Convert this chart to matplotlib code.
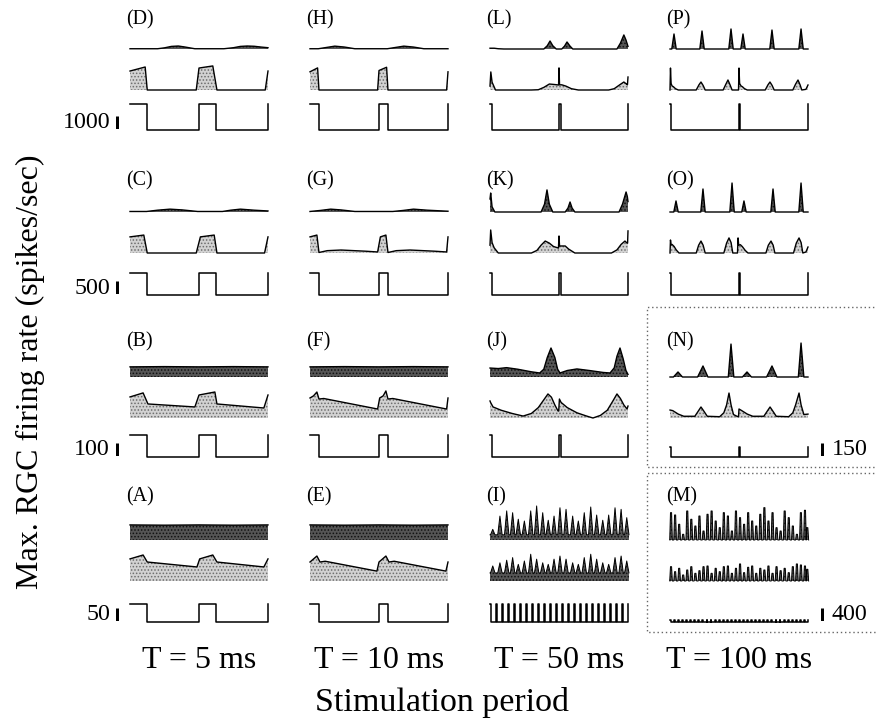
import matplotlib.pyplot as plt
from matplotlib.lines import Line2D

plt.rcParams['font.family'] = ['Liberation Serif', 'DejaVu Serif']
plt.rcParams['hatch.linewidth'] = 0.7

# ---------------- data (times in ms, rates in spikes/s) ----------------
periods = [5, 10, 50, 100]
pulse_width = 1.25
train_pulse_width = 0.5
col_titles = ['T = 5 ms', 'T = 10 ms', 'T = 50 ms', 'T = 100 ms']
row_scales = [1000, 500, 100, 50]          # rows D, C, B, A (left scale bars)
col4_scales = [1000, 500, 150, 400]        # rows P, O, N, M
panel_names = [['(D)', '(H)', '(L)', '(P)'],
               ['(C)', '(G)', '(K)', '(O)'],
               ['(B)', '(F)', '(J)', '(N)'],
               ['(A)', '(E)', '(I)', '(M)']]

# column 1, T = 5 ms
D_top_t = [0, 2.0, 2.5, 3.0, 3.5, 4.0, 4.7, 6.8, 7.5, 8.0, 8.5, 9.0, 9.5, 10]
D_top_r = [20, 20, 90, 200, 230, 150, 20, 20, 100, 200, 230, 210, 150, 100]
D_mid_t = [0, 1.1, 1.25, 4.8, 5.0, 6.0, 6.3, 9.8, 10]
D_mid_r = [1460, 1770, 0, 0, 1690, 1850, 0, 0, 1460]
C_top_t = [0, 1.2, 2.0, 2.9, 3.8, 4.9, 6.7, 7.3, 8.0, 9.0, 10]
C_top_r = [20, 20, 70, 110, 80, 20, 20, 70, 110, 70, 40]
C_mid_t = [0, 1.0, 1.25, 4.8, 5.1, 6.1, 6.3, 9.75, 10]
C_mid_r = [620, 690, 0, 0, 620, 690, 0, 0, 620]
B_top_t = [0, 2.5, 5, 7.5, 10]
B_top_r = [78, 80, 78, 80, 78]
B_mid_t = [0, 0.95, 1.3, 4.7, 5.0, 6.15, 6.3, 9.7, 10]
B_mid_r = [162, 193, 108, 85, 177, 200, 108, 77, 177]
A_top_t = [0, 2.5, 5, 7.5, 10]
A_top_r = [58, 57, 58, 57, 58]
A_mid_t = [0, 0.95, 1.25, 4.85, 5.05, 6.0, 6.3, 9.7, 10]
A_mid_r = [85, 100, 73, 54, 85, 100, 73, 54, 85]

# column 2, T = 10 ms
H_top_t = [0, 1.2, 2.4, 3.6, 5.0, 6.5, 11.2, 12.4, 13.6, 15.0, 16.5, 20]
H_top_r = [20, 20, 120, 220, 150, 20, 20, 120, 220, 150, 20, 20]
H_mid_t = [0, 1.1, 1.3, 9.8, 10.0, 11.1, 11.3, 19.8, 20]
H_mid_r = [1400, 1700, 0, 0, 1500, 1750, 0, 0, 1400]
G_top_t = [0, 1.5, 3.0, 4.5, 6.5, 12.0, 13.5, 15.0, 17.0, 20]
G_top_r = [20, 60, 110, 80, 20, 20, 60, 110, 70, 30]
G_mid_t = [0, 1.0, 1.3, 2.5, 4.5, 8.0, 9.8, 10.2, 11.0, 11.3, 12.5, 14.5, 18.0, 19.8, 20]
G_mid_r = [620, 690, 20, 90, 115, 70, 40, 620, 690, 20, 90, 115, 70, 40, 620]
F_top_t = [0, 5, 10, 15, 20]
F_top_r = [78, 80, 78, 80, 78]
F_mid_t = [0, 0.5, 1.0, 1.3, 2.0, 9.8, 10.1, 10.6, 11.0, 11.3, 12.0, 19.8, 20]
F_mid_r = [154, 170, 200, 146, 150, 69, 154, 170, 208, 146, 150, 69, 154]
E_top_t = [0, 5, 10, 15, 20]
E_top_r = [58, 57, 58, 57, 58]
E_mid_t = [0, 1.0, 1.45, 2.2, 9.7, 10.0, 11.0, 11.45, 12.2, 19.7, 20]
E_mid_r = [73, 96, 73, 76, 38, 73, 96, 73, 76, 38, 73]

# column 3, T = 50 ms
L_top_t = [0, 3, 6, 10, 39, 41.5, 43.5, 45.5, 48, 52, 54, 55.8, 58, 60, 92, 94.5, 97, 98.5, 100]
L_top_r = [60, 60, 20, 0, 0, 250, 615, 250, 0, 0, 220, 540, 220, 0, 0, 450, 1080, 700, 200]
L_mid_t = [0, 0.6, 1.5, 4, 30, 35, 39, 43, 47, 49.7, 50, 50.4, 52, 55, 59, 64,
           86, 90, 94, 97, 99, 99.6, 100]
L_mid_r = [300, 1390, 600, 0, 0, 20, 200, 460, 420, 385, 1700, 400, 400, 300, 100, 0,
           0, 100, 400, 615, 450, 400, 1000]
K_top_t = [0, 0.5, 1.5, 3.5, 37, 39.5, 41.3, 43, 45.5, 54.5, 56.5, 58, 59.5, 61.5, 93.5, 96, 98.6, 99.5, 100]
K_top_r = [500, 730, 200, 0, 0, 300, 850, 300, 0, 0, 150, 385, 150, 0, 0, 300, 770, 600, 400]
K_mid_t = [0, 0.5, 1.5, 3, 6, 30, 34, 37, 40, 43, 46, 49.6, 50, 50.4, 52, 54.5, 57, 61.5,
           88, 92, 95, 97.8, 99.3, 99.7, 100]
K_mid_r = [300, 885, 400, 200, 0, 0, 100, 300, 460, 380, 250, 190, 655, 270, 270, 270, 150, 0,
           0, 120, 330, 460, 380, 380, 850]
J_top_t = [0, 6, 12, 20, 30, 36, 39, 41.5, 44.2, 47, 49, 50.7, 56, 63, 72, 82, 87, 90, 92, 94.2,
           96.5, 98.5, 100]
J_top_r = [69, 65, 72, 60, 40, 31, 60, 150, 223, 150, 60, 31, 50, 62, 50, 35, 31, 70, 160, 223,
           140, 50, 20]
J_mid_t = [0, 0.4, 2.2, 8, 16, 24, 30, 35, 39, 42, 44.5, 47, 49.3, 49.8, 50.3, 51.5, 56, 63, 70,
           74.6, 80, 85, 89, 92, 94.5, 97, 99.3, 100]
J_mid_r = [131, 120, 85, 60, 35, 15, 35, 80, 140, 185, 160, 100, 54, 54, 146, 120, 80, 40, 15,
           0, 20, 60, 130, 185, 150, 100, 69, 92]
I_ticks = [0, 4.3, 8.7, 13.0, 17.4, 21.7, 26.1, 30.4, 34.8, 39.1, 43.5, 47.8, 52.2, 56.5,
           60.9, 65.2, 69.6, 73.9, 78.3, 82.6, 87.0, 91.3, 95.7, 100]
I_peak_t = [2.0, 7.2, 12.1, 16.4, 20.5, 24.9, 29.5, 33.8, 38.2, 42.2, 46.4, 50.7, 55.1, 59.9,
            64.0, 68.3, 73.0, 77.3, 81.7, 86.0, 90.6, 95.0, 99.1]
I_top_peak = [41, 92, 112, 105, 80, 73, 112, 131, 105, 76, 92, 124, 118, 92, 73, 105, 127, 96,
              76, 96, 124, 118, 86]
I_mid_peak = [58, 70, 80, 90, 64, 77, 103, 84, 70, 64, 84, 96, 84, 70, 64, 90, 103, 84, 70, 64,
              90, 96, 77]

# column 4, T = 100 ms
P_peak_t = [5.8, 46.4, 88.4, 105.8, 147.8, 189.9]
P_top_peak = [1155, 1385, 1540, 1155, 1460, 1540]
P_mid_t = [0, 0.7, 1.6, 3, 5, 8, 12, 38, 42, 44.9, 48, 51, 77, 81, 84, 87, 90,
           99.3, 100, 100.9, 103, 105, 108, 112, 138, 142, 144.9, 148, 151,
           178, 182, 185.5, 188.5, 191, 197, 200]
P_mid_r = [0, 1690, 500, 310, 250, 100, 0, 0, 400, 615, 350, 0, 0, 450, 770, 400, 0,
           0, 1690, 500, 310, 250, 100, 0, 0, 400, 615, 350, 0,
           0, 450, 770, 400, 0, 50, 385]
O_peak_t = [8.7, 47.8, 89.9, 107.2, 149.3, 189.9]
O_top_peak = [425, 885, 1115, 425, 885, 1115]
O_mid_t = [0, 0.7, 1.6, 3, 6, 9, 13, 38, 41.5, 44.9, 48, 51, 78, 82, 85.5, 88.5, 91,
           97.8, 98.6, 99.6, 102, 105, 109, 113, 139, 142.5, 146.4, 149.5, 152,
           179, 183, 187, 190, 192.5, 197, 200]
O_mid_r = [0, 500, 300, 330, 250, 120, 0, 0, 300, 460, 300, 0, 0, 380, 580, 400, 0,
           0, 580, 300, 320, 240, 100, 0, 0, 300, 460, 300, 0,
           0, 380, 580, 400, 0, 40, 230]
N_top_t = [0, 5, 11.6, 18, 40, 47.8, 55, 84.5, 88.4, 92.5, 105, 111.6, 118, 140, 147.8, 155,
           186, 189.9, 194, 200]
N_top_r = [0, 0, 58, 0, 0, 127, 0, 0, 380, 0, 0, 58, 0, 0, 127, 0, 0, 392, 0, 0]
N_mid_t = [0, 4, 12, 20, 36, 41, 44.9, 49, 54, 72, 78, 82, 85.5, 88.5, 92, 97, 99.3,
           100, 104, 112, 120, 136, 141, 145, 149, 154, 172, 178, 182, 187, 190, 194, 200]
N_mid_r = [92, 85, 45, 20, 20, 80, 127, 80, 20, 15, 60, 150, 288, 150, 40, 20, 15,
           104, 85, 45, 20, 20, 80, 127, 80, 20, 15, 60, 150, 288, 150, 40, 45]
M_ticks = [0, 5.9, 11.8, 17.6, 23.5, 29.4, 35.3, 41.2, 47.1, 52.9, 58.8, 64.7, 70.6, 76.5,
           82.4, 88.2, 94.1, 100, 105.9, 111.8, 117.6, 123.5, 129.4, 135.3, 141.2, 147.1,
           152.9, 158.8, 164.7, 170.6, 176.5, 182.4, 188.2, 194.1, 200]
M_peak_t = [1.5, 7.4, 13.3, 19.1, 25.0, 30.9, 36.8, 42.7, 48.6, 54.4, 60.3, 66.2, 72.1, 78.0,
            83.9, 89.7, 95.6, 101.5, 107.4, 113.3, 119.1, 125.0, 130.9, 136.8, 142.7, 148.6,
            154.4, 160.3, 166.2, 172.1, 178.0, 183.9, 189.7, 195.6, 199.0]
M_top_peak = [841, 770, 484, 176, 893, 638, 431, 739, 277, 792, 893, 585, 379, 841, 739, 277,
              893, 687, 484, 841, 585, 431, 792, 995, 585, 841, 379, 277, 893, 687, 431, 176,
              841, 915, 379]
M_mid_peak = [440, 286, 391, 185, 339, 440, 237, 317, 440, 462, 237, 391, 286, 440, 462, 237,
              391, 524, 256, 422, 462, 237, 391, 339, 462, 237, 440, 317, 391, 256, 440, 524,
              493, 462, 360]

# ---------------- layout (pixels) ----------------
W, H = 878, 721
PT = 0.72                   # points per pixel at 100 dpi
COL_X = [130, 310, 490, 670]
COL_W = 138
LABEL_Y = [20, 181, 342, 497]
TOP_BASE = [49, 212, 377, 540]
MID_BASE = [90, 253, 418, 581]
STIM_BOT = [130, 295, 457, 622]
STIM_H = [26, 22, 22, 18]
BAR_PX = 13                 # pixel height of a scale bar

DARK = dict(facecolor='#555555', edgecolor='#111111')
LIGHT = dict(facecolor='#d2d2d2', edgecolor='#6e6e6e')


def spikes(times, heights, half, floor, t_end, flat=0.0):
    t, r = [0], [floor]
    for p, h in zip(times, heights):
        t += [p - half, p - flat, p + flat, p + half]
        r += [floor, h, h, floor]
    if t[-1] < t_end:
        t.append(t_end)
        r.append(floor)
    return t, r


def stim_line(onsets, width, t_end):
    t, y = [], []
    for o in onsets:
        if o > 0:
            t += [o, o]
            y += [0, 1]
        else:
            t.append(o)
            y.append(1)
        if o + width < t_end:
            t += [o + width, o + width]
            y += [1, 0]
    if t[-1] < t_end:
        t.append(t_end)
        y.append(0)
    return t, y


fig = plt.figure(figsize=(W / 100, H / 100), dpi=100)


def box(x, y_bottom, w, h):
    return [x / W, 1 - y_bottom / H, w / W, h / H]


def trace_axes(col, base, scale, h=45):
    ax = fig.add_axes(box(COL_X[col], base, COL_W, h))
    ax.set_xlim(0, 2 * periods[col])
    ax.set_ylim(0, h * scale / BAR_PX)
    ax.axis('off')
    return ax


def draw_trace(ax, t, r, dark, lw=1.0):
    ax.fill_between(t, 0, r, hatch='.....', linewidth=0, clip_on=False,
                    **(DARK if dark else LIGHT))
    ax.plot(t, r, color='black', lw=lw, clip_on=False)


top_traces = [[(D_top_t, D_top_r), (H_top_t, H_top_r), (L_top_t, L_top_r),
               spikes(P_peak_t, P_top_peak, 3.2, 0, 200)],
              [(C_top_t, C_top_r), (G_top_t, G_top_r), (K_top_t, K_top_r),
               spikes(O_peak_t, O_top_peak, 3.2, 0, 200)],
              [(B_top_t, B_top_r), (F_top_t, F_top_r), (J_top_t, J_top_r), (N_top_t, N_top_r)],
              [(A_top_t, A_top_r), (E_top_t, E_top_r),
               spikes(I_peak_t, I_top_peak, 1.6, 20, 100),
               spikes(M_peak_t, M_top_peak, 1.9, 0, 200, 0.8)]]
mid_traces = [[(D_mid_t, D_mid_r), (H_mid_t, H_mid_r), (L_mid_t, L_mid_r), (P_mid_t, P_mid_r)],
              [(C_mid_t, C_mid_r), (G_mid_t, G_mid_r), (K_mid_t, K_mid_r), (O_mid_t, O_mid_r)],
              [(B_mid_t, B_mid_r), (F_mid_t, F_mid_r), (J_mid_t, J_mid_r), (N_mid_t, N_mid_r)],
              [(A_mid_t, A_mid_r), (E_mid_t, E_mid_r),
               spikes(I_peak_t, I_mid_peak, 1.6, 31, 100),
               spikes(M_peak_t, M_mid_peak, 1.9, 0, 200, 0.8)]]

for row in range(4):
    for col in range(4):
        scale = col4_scales[row] if col == 3 else row_scales[row]
        spiky = row == 3 and col >= 2
        t, r = top_traces[row][col]
        draw_trace(trace_axes(col, TOP_BASE[row], scale), t, r, dark=True,
                   lw=0.7 if spiky else 1.0)
        t, r = mid_traces[row][col]
        draw_trace(trace_axes(col, MID_BASE[row], scale), t, r, dark=spiky,
                   lw=0.7 if spiky else 1.0)

        # stimulus
        T = periods[col]
        onsets = [0, T, 2 * T]
        sh = STIM_H[row]
        pw = pulse_width
        if row == 3 and col == 2:
            onsets, pw = I_ticks, train_pulse_width
        if col == 3 and row == 2:
            sh = 10
        if col == 3 and row == 3:
            onsets, sh = M_ticks, 2
        ax = fig.add_axes(box(COL_X[col], STIM_BOT[row], COL_W, sh))
        ax.set_xlim(0, 2 * T)
        ax.set_ylim(0, 1)
        ax.axis('off')
        st, sy = stim_line(onsets, pw, 2 * T)
        ax.plot(st, sy, color='black', lw=1.1, clip_on=False)

        fig.text((COL_X[col] - 4) / W, 1 - LABEL_Y[row] / H, panel_names[row][col],
                 fontsize=20 * PT, ha='left', va='center')

# scale bars
for row in range(4):
    ax = fig.add_axes(box(114, STIM_BOT[row] - 1, 6, BAR_PX))
    ax.set_ylim(0, row_scales[row])
    ax.set_xlim(-1, 1)
    ax.axis('off')
    ax.plot([0, 0], [0, row_scales[row]], color='black', lw=3 * PT,
            solid_capstyle='butt')
    fig.text(110 / W, 1 - (STIM_BOT[row] - 7) / H, str(row_scales[row]),
             fontsize=24 * PT, ha='right', va='center')
for row in (2, 3):
    ax = fig.add_axes(box(819, STIM_BOT[row] - 1, 6, BAR_PX))
    ax.set_ylim(0, col4_scales[row])
    ax.set_xlim(-1, 1)
    ax.axis('off')
    ax.plot([0, 0], [0, col4_scales[row]], color='black', lw=3 * PT,
            solid_capstyle='butt')
    fig.text(832 / W, 1 - (STIM_BOT[row] - 7) / H, str(col4_scales[row]),
             fontsize=24 * PT, ha='left', va='center')

# dotted boxes around N and M
dot = dict(color='#666666', lw=1.0, linestyle=(0, (1, 2)))
for (y0, y1) in [(307, 467), (473, 632)]:
    fig.add_artist(Line2D([878 / W, 647 / W, 647 / W, 878 / W],
                          [1 - y0 / H, 1 - y0 / H, 1 - y1 / H, 1 - y1 / H], **dot))

# axis texts
for col in range(4):
    fig.text((COL_X[col] + COL_W / 2) / W, 1 - 661 / H, col_titles[col],
             fontsize=32 * PT, ha='center', va='center')
fig.text(442 / W, 1 - 703 / H, 'Stimulation period', fontsize=34 * PT,
         ha='center', va='center')
fig.text(30 / W, 1 - 372 / H, 'Max. RGC firing rate (spikes/sec)', fontsize=32 * PT,
         rotation=90, ha='center', va='center')

fig.savefig('out.png', dpi=100)
